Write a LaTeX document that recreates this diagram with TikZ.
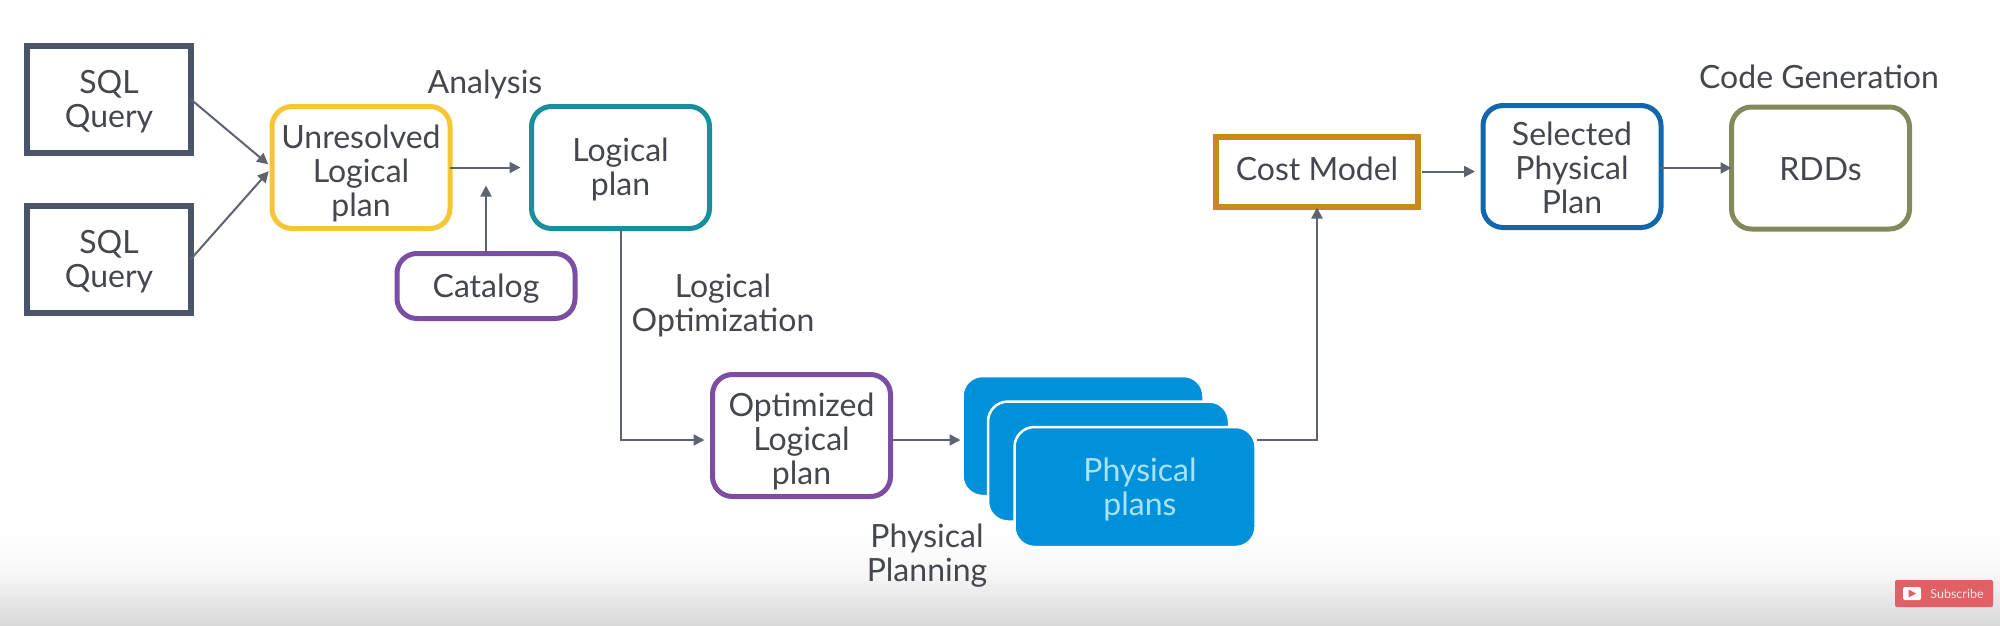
\documentclass[tikz,border=0pt]{standalone}
\usepackage{fontspec}
\setmainfont{Lato}
\usetikzlibrary{arrows.meta}
\definecolor{txt}{HTML}{44474E}
\definecolor{arr}{HTML}{5E6370}
\definecolor{sqlc}{HTML}{4A5568}
\definecolor{yel}{HTML}{F7C636}
\definecolor{teal2}{HTML}{178F9C}
\definecolor{purp}{HTML}{7B4EA3}
\definecolor{orng}{HTML}{C98A1D}
\definecolor{blu}{HTML}{1266AB}
\definecolor{oliv}{HTML}{85885C}
\definecolor{planfill}{HTML}{0191DA}
\definecolor{plantxt}{HTML}{A8E3F8}
\definecolor{subred}{HTML}{E06065}
\newcommand{\toprl}[1]{\rule{0pt}{#1pt}}
\pgfdeclareverticalshading{bottomfade}{100bp}{
  color(0bp)=(black!15); color(25bp)=(black!15); color(38bp)=(black!9);
  color(50bp)=(black!3); color(62bp)=(black!1); color(75bp)=(white); color(100bp)=(white)}
\tikzset{
  x=1pt,y=-1pt,
  every node/.style={outer sep=0pt,inner sep=0pt,align=center,text=txt,
    font=\fontsize{32}{34}\selectfont},
  box/.style={draw=#1,line width=5pt,rounded corners=20pt,fill=white},
  sqlbox/.style={draw=sqlc,line width=6pt,fill=white,minimum width=164pt,minimum height=107pt},
  wide/.style={minimum width=178pt,minimum height=122pt},
  planbox/.style={fill=planfill,draw=white,line width=2.5pt,rounded corners=20pt,
    minimum width=241pt,minimum height=120pt},
  link/.style={draw=arr,line width=2pt,-{Triangle[length=11pt,width=11pt]}}
}
\begin{document}
\begin{tikzpicture}
\useasboundingbox (0,0) rectangle (2000,625);
\fill[white] (0,0) rectangle (2000,625);
\shade[shading=bottomfade] (0,520) rectangle (2000,625);

\node[sqlbox] (sqla) at (109,99.5) {\toprl{28}SQL\\Query};
\node[sqlbox] (sqlb) at (109,259) {\toprl{28}SQL\\Query};
\node[box=yel,wide] (unres) at (361,167.5) {\toprl{35}Unresolved\\Logical\\plan};
\node[box=teal2,wide] (logical) at (620.5,167.5) {\toprl{28}Logical\\plan};
\node[box=purp,minimum width=178pt,minimum height=65pt] (catalog) at (486,286) {\toprl{28}Catalog};
\node[box=purp,wide] (optim) at (801.5,435.5) {\toprl{35}Optimized\\Logical\\plan};
\node[planbox] (plana) at (1083,436) {};
\node[planbox] (planb) at (1108.5,461.5) {};
\node[planbox,text=plantxt] (planc) at (1135,487) {\toprl{28}\hspace*{10pt}Physical\\\hspace*{10pt}plans};
\node[draw=orng,line width=6pt,fill=white,minimum width=202pt,minimum height=70pt] (cost) at (1317,171.5) {Cost Model\rule[-5pt]{0pt}{5pt}};
\node[box=blu,wide] (selected) at (1572,166.5) {\toprl{26}Selected\\Physical\\Plan};
\node[box=oliv,wide] (rdds) at (1820.5,168) {\toprl{25}RDDs};

\node (lanalysis) at (485,84) {Analysis};
\node (loptim) at (723,305) {Logical\\Optimization};
\node (lphys) at (927,556) {Physical\\Planning};
\node (lcode) at (1819,77) {Code Generation};

\coordinate (joinlo) at (620.5,440);
\coordinate (optimin) at (optim.west |- joinlo);
\coordinate (optout) at (optim.east |- joinlo);
\coordinate (planin) at (plana.west |- joinlo);
\coordinate (planout) at (1257,440);
\coordinate (joincost) at (cost.south |- planout);
\coordinate (analysisjoin) at (catalog.north |- unres.east);

\draw[link,shorten >=5pt] (sqla.east) -- (unres.west);
\draw[link,shorten >=5pt] (sqlb.east) -- (unres.west);
\draw[link,shorten >=11pt] (unres.east) -- (logical.west);
\draw[link,shorten >=18pt] (catalog.north) -- (analysisjoin);
\draw[link,shorten >=8pt] (logical.south) -- (joinlo) -- (optimin);
\draw[link,shorten >=2pt] (optout) -- (planin);
\draw[link,shorten >=1pt] (planout) -- (joincost) -- (cost.south);
\draw[link,shorten <=4pt,shorten >=8pt] (cost.east) -- (selected.west |- cost.east);
\draw[link] (selected.east |- rdds.west) -- (rdds.west);

\node[fill=subred,rounded corners=2pt,minimum width=98pt,minimum height=27pt] (sub) at (1944,593.5) {};
\node[fill=white,rounded corners=2pt,minimum width=18pt,minimum height=13pt] (subicon) at (1912,593.5) {};
\fill[subred] (1908.5,589.5) -- (1916,593.5) -- (1908.5,597.5) -- cycle;
\node[text=white!85!subred,font=\fontsize{12.5}{13}\selectfont] (subtxt) at (1957,593.5) {Subscribe};
\end{tikzpicture}
\end{document}
